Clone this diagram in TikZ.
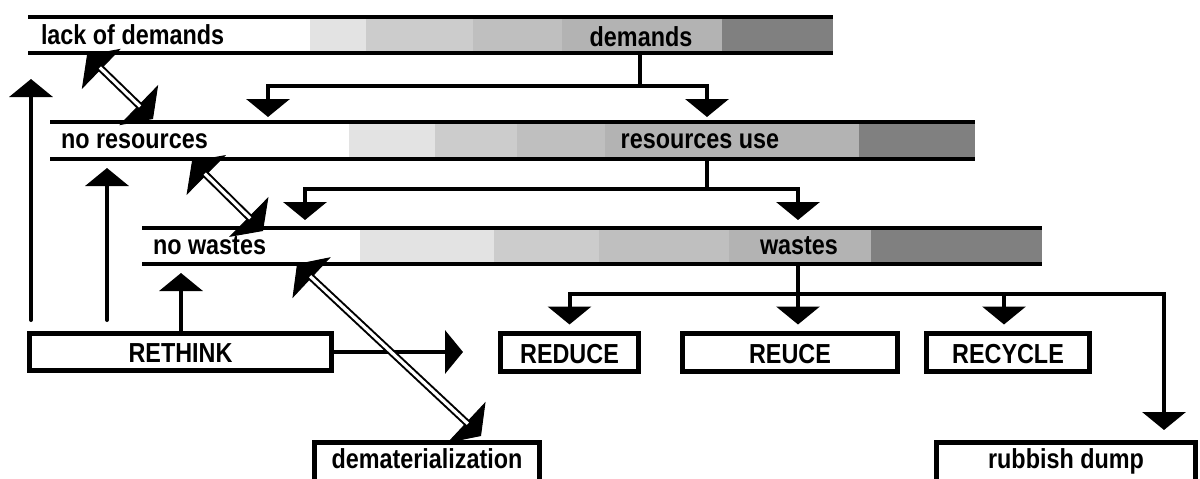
\documentclass[tikz,border=0pt]{standalone}
\usepackage{fontspec}
\setmainfont{Liberation Sans}[FakeStretch=0.85]
\usetikzlibrary{arrows.meta}
\definecolor{shA}{HTML}{E3E3E3}
\definecolor{shB}{HTML}{CCCCCC}
\definecolor{shC}{HTML}{BFBFBF}
\definecolor{shD}{HTML}{B3B3B3}
\definecolor{shE}{HTML}{808080}
\tikzset{
  txt/.style={font=\fontsize{27.5}{32}\selectfont\bfseries},
  lbl/.style={txt, inner sep=0pt, outer sep=0pt},
  bar/.style={inner sep=0pt, outer sep=0pt, draw=none},
  barline/.style={line width=4pt},
  ln/.style={line width=4pt},
  arr/.style={line width=4pt, -{Triangle[width=43pt,length=18pt]}},
  box/.style={txt, draw, line width=4.5pt, inner sep=0pt, outer sep=0pt,
              text height=21.5pt, text depth=0pt},
  dtip/.style={line width=1pt,
               {Triangle[width=56pt,length=20pt]}-{Triangle[width=56pt,length=20pt]}},
  dbl/.style={line width=2pt, double=white, double distance=3.2pt,
              shorten <=18pt, shorten >=18pt}
}
\begin{document}
\begin{tikzpicture}[x=1pt,y=-1pt]
\useasboundingbox (0,0) rectangle (1200,479);
\clip (0,0) rectangle (1200,479);
\fill[white] (0,0) rectangle (1200,479);

% --- demands bar ---
\node[bar, minimum width=805pt, minimum height=36pt] (bar1) at (430.5,35) {};
\fill[shA] (310,17) rectangle (366,53);
\fill[shB] (366,17) rectangle (473,53);
\fill[shC] (473,17) rectangle (562,53);
\fill[shD] (562,17) rectangle (722,53);
\fill[shE] (722,17) rectangle (833,53);
\draw[barline] (bar1.north west) -- (bar1.north east);
\draw[barline] (bar1.south west) -- (bar1.south east);
\node[lbl, anchor=base west] (lackdem) at (41,45) {lack of demands};
\node[lbl, anchor=base] (dem) at (641,46) {demands};

% --- resources bar ---
\node[bar, minimum width=925pt, minimum height=37pt] (bar2) at (512.5,140.5) {};
\fill[shA] (349,122) rectangle (435,159);
\fill[shB] (435,122) rectangle (517,159);
\fill[shC] (517,122) rectangle (605,159);
\fill[shD] (605,122) rectangle (859,159);
\fill[shE] (859,122) rectangle (975,159);
\draw[barline] (bar2.north west) -- (bar2.north east);
\draw[barline] (bar2.south west) -- (bar2.south east);
\node[lbl, anchor=base west] (nores) at (61,148) {no resources};
\node[lbl, anchor=base] (resuse) at (700,148) {resources use};

% --- wastes bar ---
\node[bar, minimum width=900pt, minimum height=36pt] (bar3) at (592,246) {};
\fill[shA] (360,228) rectangle (494,264);
\fill[shB] (494,228) rectangle (599,264);
\fill[shC] (599,228) rectangle (729,264);
\fill[shD] (729,228) rectangle (871,264);
\fill[shE] (871,228) rectangle (1042,264);
\draw[barline] (bar3.north west) -- (bar3.north east);
\draw[barline] (bar3.south west) -- (bar3.south east);
\node[lbl, anchor=base west] (nowaste) at (153,254) {no wastes};
\node[lbl, anchor=base] (waste) at (799,254) {wastes};

% --- boxes ---
\node[box, minimum width=302pt, minimum height=37pt] (rethink) at (180.5,352) {RETHINK};
\node[box, minimum width=138pt, minimum height=38pt] (reduce) at (569.5,352.5) {REDUCE};
\node[box, minimum width=215pt, minimum height=38pt] (reuce) at (790,352.5) {REUCE};
\node[box, minimum width=163pt, minimum height=38pt] (recycle) at (1008,352.5) {RECYCLE};
\node[box, minimum width=225pt, text height=25.5pt, text depth=40pt, anchor=north]
  (demat) at (427,442.5) {dematerialization};
\node[box, minimum width=259pt, text height=25.5pt, text depth=40pt, anchor=north]
  (dump) at (1066,442.5) {rubbish dump};

% --- demands -> resources ---
\coordinate (j1) at (640,86);
\coordinate (j1L) at (268,117);
\coordinate (j1R) at (707,117);
\draw[ln] (bar1.south -| j1) -- (j1);
\draw[arr] (j1) -| (j1L);
\draw[arr] (j1) -| (j1R);

% --- resources -> wastes ---
\coordinate (j2) at (707,189);
\coordinate (j2L) at (305,220);
\coordinate (j2R) at (798,220);
\draw[ln] (bar2.south -| j2) -- (j2);
\draw[arr] (j2) -| (j2L);
\draw[arr] (j2) -| (j2R);

% --- wastes -> the four outlets ---
\coordinate (j3) at (798,294);
\coordinate (dumpin) at (1164,430);
\draw[ln] (bar3.south -| j3) -- (j3);
\draw[arr, shorten >=9pt] (j3) -| (reduce.north);
\draw[arr, shorten >=9pt] (j3) -- (reuce.north -| j3);
\draw[arr, shorten >=9pt] (j3) -| ([xshift=-4pt]recycle.north);
\draw[arr] (j3) -| (dumpin);

% --- RETHINK feedback ---
\coordinate (r1) at (31,320);
\coordinate (r1t) at (31,79);
\coordinate (r2) at (107,320);
\coordinate (r2t) at (107,168);
\coordinate (r3t) at (181,273);
\coordinate (rt) at (463,352);
\draw[arr, line cap=round] (r1) -- (r1t);
\draw[arr, line cap=round] (r2) -- (r2t);
\draw[arr] (rethink.north -| r3t) -- (r3t);
\draw[arr] (rethink.east) -- (rt);

% --- two-way links between the levels ---
\coordinate (dA1) at (87,55);
\coordinate (dA2) at (153,119);
\coordinate (dB1) at (192,161);
\coordinate (dB2) at (263,231);
\coordinate (dC1) at (297,264);
\coordinate (dC2) at (481,436);
\foreach \p/\q in {dA1/dA2, dB1/dB2, dC1/dC2} {
  \draw[dtip] (\p) -- (\q);
  \draw[dbl] (\p) -- (\q);
}
\end{tikzpicture}
\end{document}
